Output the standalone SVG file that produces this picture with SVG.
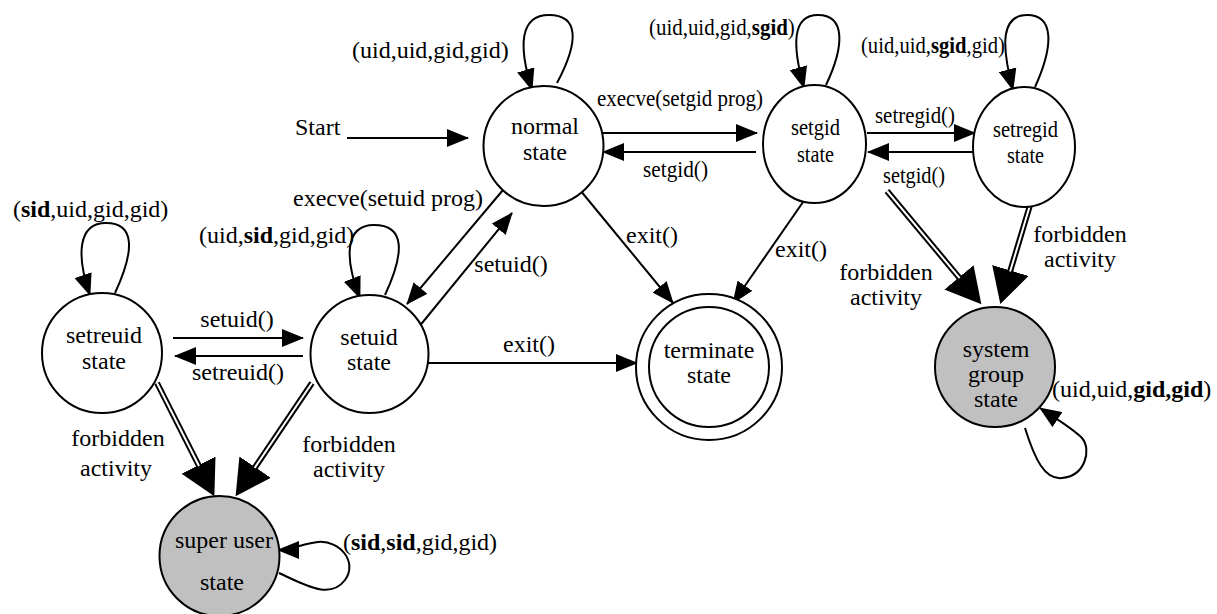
<svg xmlns="http://www.w3.org/2000/svg" width="1217" height="614" viewBox="0 0 1217 614">
<style>
text{font-family:"Liberation Serif","Times New Roman",serif;font-size:24px;fill:#000}
.m{text-anchor:middle}
.b{font-weight:bold}
.node{fill:#fff;stroke:#000;stroke-width:2}
.grey{fill:#c0c0c0}
.ln{fill:none;stroke:#000;stroke-width:2;marker-end:url(#ah)}
.dblo{fill:none;stroke:#000;stroke-width:6;marker-end:url(#big)}
.dbli{fill:none;stroke:#fff;stroke-width:2}
</style>
<defs>
<marker id="ah" viewBox="0 0 22 18" refX="21" refY="9" markerWidth="22" markerHeight="18" markerUnits="userSpaceOnUse" orient="auto">
<path d="M0,0 L22,9 L0,18 z" fill="#000"/>
</marker>
<marker id="big" viewBox="0 0 35 38" refX="1" refY="19" markerWidth="35" markerHeight="38" markerUnits="userSpaceOnUse" orient="auto">
<path d="M0,0 L35,19 L0,38 z" fill="#000"/>
</marker>
</defs>

<g id="connectors">
<path class="ln" d="M347,138 L468,138"/>
<path class="ln" d="M600,133 L757,133"/>
<path class="ln" d="M756,152 L603,152"/>
<path class="ln" d="M867,133 L975,133"/>
<path class="ln" d="M976,152 L868,152"/>
<path class="ln" d="M557,83 C580,40 578,15 549,15 C520,15 518,45 532,90"/>
<path class="ln" d="M826,85 C845,45 845,15 818,15 C792,15 792,45 804,88"/>
<path class="ln" d="M1035,87 C1054,45 1054,15 1027,15 C1001,15 1001,45 1013,90"/>
<path class="ln" d="M115,293 C135,250 135,223 106,223 C78,223 76,255 90,295"/>
<path class="ln" d="M385,295 C405,252 405,225 374,225 C345,225 344,258 360,298"/>
<path class="ln" d="M279,573 C305,585 330,600 345,580 C358,562 340,540 318,542 C305,543 292,550 278,550"/>
<path class="ln" d="M1025,428 C1035,460 1045,480 1062,478 C1085,476 1092,450 1082,438 C1072,428 1055,418 1040,408"/>
<path class="ln" d="M503,190 L407,304"/>
<path class="ln" d="M418,328 L512,213"/>
<path class="ln" d="M580,190 L673,303"/>
<path class="ln" d="M810,192 L733,303"/>
<path class="ln" d="M425,363 L637,363"/>
<path class="ln" d="M173,338 L303,338"/>
<path class="ln" d="M303,356 L175,356"/>
<path class="dblo" d="M157,383 L199,466"/>
<path class="dbli" d="M157,383 L199,466"/>
<path class="dblo" d="M312,383 L254.6,468"/>
<path class="dbli" d="M312,383 L254.6,468"/>
<path class="dblo" d="M887,191 L959.6,278.1"/>
<path class="dbli" d="M887,191 L959.6,278.1"/>
<path class="dblo" d="M1040,172 L1010.1,271.5"/>
<path class="dbli" d="M1040,172 L1010.1,271.5"/>
<text x="295" y="135">Start</text>
<text x="352" y="58">(uid,uid,gid,gid)</text>
<text x="597" y="106" textLength="166" lengthAdjust="spacingAndGlyphs">execve(setgid prog)</text>
<text x="643" y="177" textLength="65" lengthAdjust="spacingAndGlyphs">setgid()</text>
<text transform="translate(649,35) scale(0.872,1)">(uid,uid,gid,<tspan class="b">sgid</tspan>)</text>
<text x="875" y="123" textLength="80" lengthAdjust="spacingAndGlyphs">setregid()</text>
<text x="883" y="183" textLength="62" lengthAdjust="spacingAndGlyphs">setgid()</text>
<text transform="translate(861,53) scale(0.86,1)">(uid,uid,<tspan class="b">sgid</tspan>,gid)</text>
<text class="m" x="388" y="206">execve(setuid prog)</text>
<text x="13" y="217">(<tspan class="b">sid</tspan>,uid,gid,gid)</text>
<text x="199" y="243">(uid,<tspan class="b">sid</tspan>,gid,gid)</text>
<text class="m" x="511" y="272">setuid()</text>
<text class="m" x="652" y="243">exit()</text>
<text class="m" x="801" y="257">exit()</text>
<text class="m" x="529" y="352">exit()</text>
<text class="m" x="237" y="327">setuid()</text>
<text class="m" x="238" y="380">setreuid()</text>
<text class="m" x="118" y="446">forbidden</text>
<text class="m" x="116" y="476">activity</text>
<text class="m" x="349" y="452">forbidden</text>
<text class="m" x="349" y="477">activity</text>
<text class="m" x="886" y="280">forbidden</text>
<text class="m" x="886" y="305">activity</text>
<text class="m" x="1080" y="242">forbidden</text>
<text class="m" x="1080" y="267">activity</text>
<text x="343" y="550">(<tspan class="b">sid</tspan>,<tspan class="b">sid</tspan>,gid,gid)</text>
<text x="1052" y="397">(uid,uid,<tspan class="b">gid,gid</tspan>)</text>
</g>

<g id="normal">
<circle class="node" cx="543.5" cy="146" r="60"/>
<text class="m" x="545" y="134">normal</text>
<text class="m" x="545" y="160">state</text>
</g>
<g id="setgid">
<ellipse class="node" cx="814.5" cy="144" rx="51.5" ry="59"/>
<text x="791" y="135" textLength="49" lengthAdjust="spacingAndGlyphs">setgid</text>
<text x="797" y="162" textLength="37" lengthAdjust="spacingAndGlyphs">state</text>
</g>
<g id="setregid">
<ellipse class="node" cx="1024" cy="147" rx="51" ry="60"/>
<text x="993" y="137" textLength="65" lengthAdjust="spacingAndGlyphs">setregid</text>
<text x="1007" y="163" textLength="37" lengthAdjust="spacingAndGlyphs">state</text>
</g>
<g id="setreuid">
<circle class="node" cx="102" cy="353" r="60"/>
<text class="m" x="104" y="343">setreuid</text>
<text class="m" x="104" y="369">state</text>
</g>
<g id="setuid">
<circle class="node" cx="369.5" cy="354" r="59"/>
<text class="m" x="369" y="345">setuid</text>
<text class="m" x="369" y="370">state</text>
</g>
<g id="terminate">
<circle class="node" cx="709" cy="367" r="73"/>
<circle class="node" cx="709" cy="367" r="60"/>
<text class="m" x="709" y="358">terminate</text>
<text class="m" x="709" y="383">state</text>
</g>
<g id="systemgroup">
<circle class="node grey" cx="995" cy="367" r="60"/>
<text class="m" x="996" y="357">system</text>
<text class="m" x="996" y="382">group</text>
<text class="m" x="996" y="407">state</text>
</g>
<g id="superuser">
<circle class="node grey" cx="219.5" cy="556" r="60"/>
<text class="m" x="224" y="548">super user</text>
<text class="m" x="222" y="590">state</text>
</g>
</svg>
